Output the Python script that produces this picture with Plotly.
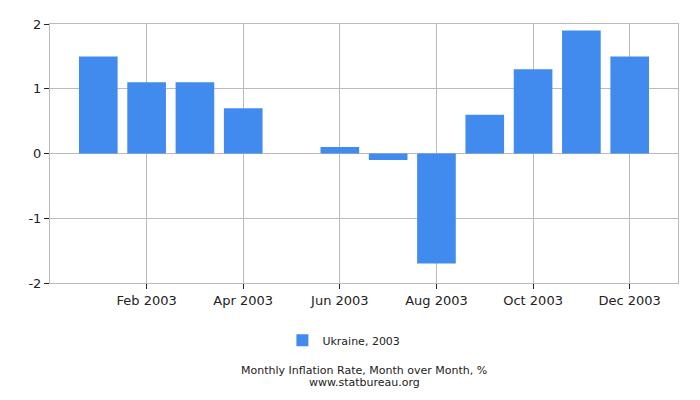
import plotly.graph_objects as go

months = ["Jan", "Feb", "Mar", "Apr", "May", "Jun", "Jul", "Aug", "Sep", "Oct", "Nov", "Dec"]
values = [1.5, 1.1, 1.1, 0.7, 0.0, 0.1, -0.1, -1.7, 0.6, 1.3, 1.9, 1.5]
tick_labels = ["Feb 2003", "Apr 2003", "Jun 2003", "Aug 2003", "Oct 2003", "Dec 2003"]
y_ticks = [-2, -1, 0, 1, 2]
y_labels = ["-2", "-1", "0", "1", "2"]

x_pos = list(range(len(months)))

fig = go.Figure()
fig.add_bar(
    x=x_pos,
    y=values,
    width=0.8,
    marker_color="#418bef",
    marker_line_width=0,
    name="Ukraine, 2003",
    showlegend=True,
)

# the page adds a body margin, so the figure is sized to fit inside it
fig.update_layout(
    width=692,
    height=392,
    margin=dict(l=42, r=22, t=9, b=117),
    plot_bgcolor="white",
    paper_bgcolor="white",
    font=dict(family="DejaVu Sans", size=13, color="#222222"),
    showlegend=True,
    legend=dict(
        orientation="h",
        x=0.468,
        xanchor="center",
        y=-0.165,
        yanchor="top",
        font=dict(size=11),
    ),
    annotations=[
        dict(text="Monthly Inflation Rate, Month over Month, %", x=0.5, y=-0.305,
             xref="paper", yref="paper", xanchor="center", yanchor="top",
             showarrow=False, font=dict(size=11)),
        dict(text="www.statbureau.org", x=0.5, y=-0.352,
             xref="paper", yref="paper", xanchor="center", yanchor="top",
             showarrow=False, font=dict(size=11)),
    ],
)

fig.update_xaxes(
    range=[-1, 12],
    tickvals=[1, 3, 5, 7, 9, 11],
    ticktext=tick_labels,
    showgrid=True,
    gridcolor="#bbbbbb",
    showline=True,
    linecolor="#bbbbbb",
    mirror=True,
    ticks="outside",
    ticklen=5,
    tickcolor="#222222",
    zeroline=False,
)
fig.update_yaxes(
    range=[-2, 2],
    tickvals=y_ticks,
    ticktext=y_labels,
    showgrid=True,
    gridcolor="#bbbbbb",
    showline=True,
    linecolor="#bbbbbb",
    mirror=True,
    ticks="outside",
    ticklen=5,
    tickcolor="#222222",
    zeroline=True,
    zerolinecolor="#bbbbbb",
    zerolinewidth=1,
)

fig.write_html("out.html")
